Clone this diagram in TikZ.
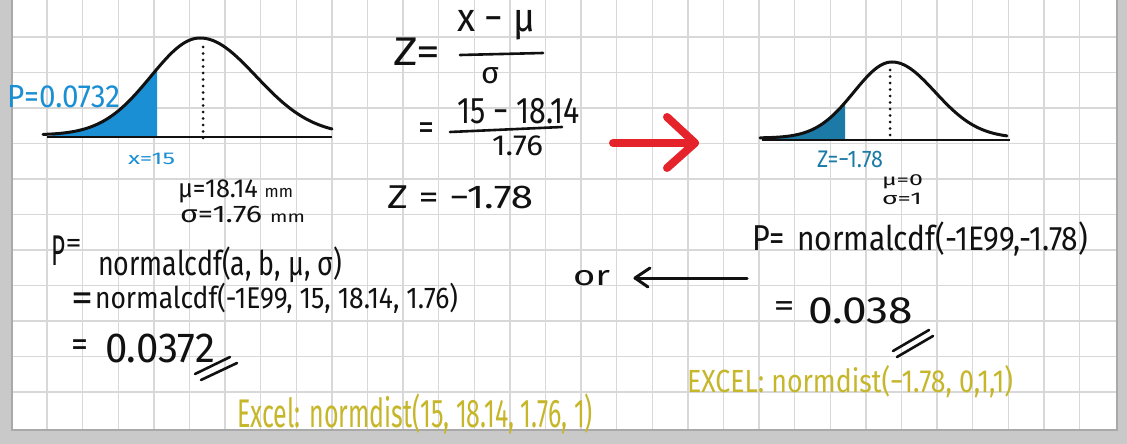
\documentclass[tikz,border=0pt]{standalone}
\usepackage{fontspec}
\setmainfont{Fira Sans}
\usepackage{graphicx}
\definecolor{bggray}{HTML}{C9C9C9}
\definecolor{shadowc}{HTML}{A9A9A9}
\definecolor{gridc}{HTML}{D8D8D8}
\definecolor{blueA}{HTML}{1A8FD4}
\definecolor{tealB}{HTML}{1B7BA6}
\definecolor{goldC}{HTML}{C6B62A}
\definecolor{redD}{HTML}{E5232B}
\definecolor{inkK}{HTML}{111111}
% width (pt), font size (pt), text
\newcommand\hwt[3]{\resizebox{#1pt}{\height}{\fontsize{#2pt}{#2pt}\selectfont #3}}
\newcommand\smallsz[2]{{\fontsize{#1pt}{#1pt}\selectfont #2}}
\begin{document}
\begin{tikzpicture}[x=1pt,y=-1pt,
  hw/.style={inner sep=0pt, outer sep=0pt, anchor=base west, text=inkK},
  gridline/.style={draw=gridc, line width=1.4pt},
  curveline/.style={draw=inkK, line width=3pt, line cap=round, line join=round},
  axisline/.style={draw=inkK, line width=2pt},
  dotline/.style={draw=inkK, line width=3pt, line cap=round, dash pattern=on 0pt off 6.5pt},
  inkstroke/.style={draw=inkK, line width=2.6pt, line cap=round},
  redarrow/.style={draw=redD, line width=8pt, line cap=round, line join=round},
  blackarrow/.style={draw=inkK, line width=3pt, line cap=round, line join=round}]
\useasboundingbox (0,0) rectangle (1127,444);
% paper
\fill[bggray] (0,0) rectangle (1127,444);
\fill[white] (12,0) rectangle (1117,430);
\draw[shadowc, line width=1.5pt] (12,0) -- (12,430) -- (1117,430) -- (1117,0);
\foreach \k in {1,...,30} \draw[gridline] ({11.4+35.6*\k},0) -- ({11.4+35.6*\k},429);
\foreach \k in {1,...,11} \draw[gridline] (13,{1.5+35.5*\k}) -- (1116,{1.5+35.5*\k});

% ---------- left bell curve ----------
\fill[blueA] plot[domain=52:157, samples=50] (\x,{135-97*exp(-((\x-200)/49)^2/2)}) -- (157,136) -- (52,136) -- cycle;
\draw[axisline] (47,137) -- (332,137);
\draw[curveline] plot[domain=43:200, samples=70] (\x,{135-97*exp(-((\x-200)/49)^2/2)})
   -- plot[domain=200:332, samples=70] (\x,{135-97*exp(-((\x-200)/56)^2/2)});
\coordinate (lmtop) at (203,47);
\coordinate (lmbot) at (203,140);
\draw[dotline] (lmtop) -- (lmbot);
\node[hw, text=blueA] (pl) at (7,107) {\hwt{113}{32}{P=0.0732}};
\node[hw, text=blueA] (xl) at (128,164) {\hwt{47}{17}{x=15}};
\node[hw] (mul) at (178,197) {\hwt{115}{26}{μ=18.14 \smallsz{17}{mm}}};
\node[hw] (sgl) at (180,222) {\hwt{125}{24}{σ=1.76 \smallsz{16}{mm}}};

% ---------- z formula ----------
\node[hw] (zeq) at (393,65) {\hwt{47}{40}{Z=}};
\node[hw] (znum) at (457,32) {\hwt{78}{40}{x − μ}};
\coordinate (f1a) at (460,55);
\coordinate (f1b) at (543,53);
\draw[inkstroke] (f1a) -- (f1b);
\node[hw] (zden) at (481,83) {\hwt{18}{30}{σ}};
\node[hw] (eq2) at (418.5,139) {\hwt{16}{36}{=}};
\node[hw] (num2) at (457,123) {\hwt{123}{37}{15 − 18.14}};
\coordinate (f2a) at (450,132);
\coordinate (f2b) at (562,127);
\draw[inkstroke] (f2a) -- (f2b);
\node[hw] (den2) at (492,155) {\hwt{51}{29}{1.76}};
\node[hw] (zres) at (387,208) {\hwt{146}{33}{Z = −1.78}};

% ---------- red arrow ----------
\coordinate (rtail) at (613,143);
\coordinate (rtip) at (695,143);
\coordinate (rarmA) at (667,117);
\coordinate (rarmB) at (667,168);
\draw[redarrow] (rtail) -- (rtip);
\draw[redarrow] (rarmA) -- (rtip) -- (rarmB);

% ---------- right bell curve ----------
\fill[tealB] plot[domain=766:845, samples=50] (\x,{138-76*exp(-((\x-892)/38)^2/2)}) -- (845,139) -- (766,139) -- cycle;
\draw[axisline] (762,140) -- (1010,140);
\draw[curveline] plot[domain=760:892, samples=70] (\x,{138-76*exp(-((\x-892)/38)^2/2)})
   -- plot[domain=892:1007, samples=70] (\x,{138-76*exp(-((\x-892)/43)^2/2)});
\coordinate (rmtop) at (890,70);
\coordinate (rmbot) at (890,140);
\draw[dotline] (rmtop) -- (rmbot);
\node[hw, text=tealB] (zr) at (817,167) {\hwt{66}{24}{Z=−1.78}};
\node[hw] (mur) at (882,185) {\hwt{41}{16}{μ=0}};
\node[hw] (sgr) at (882,204) {\hwt{40}{17}{σ=1}};

% ---------- right computation ----------
\node[hw] (pr) at (752,250) {\hwt{33}{36}{P=}};
\node[hw] (ncr) at (797,250) {\hwt{291}{34}{normalcdf(-1E99,-1.78)}};
\node[hw] (orw) at (573,285) {\hwt{37}{28}{or}};
\coordinate (btail) at (747,278);
\coordinate (btip) at (635,278);
\coordinate (barmA) at (650,268);
\coordinate (barmB) at (648,287);
\draw[blackarrow] (btail) -- (btip);
\draw[blackarrow] (barmA) -- (btip) -- (barmB);
\node[hw] (eqr) at (773.5,316) {\hwt{21}{32}{=}};
\node[hw] (resr) at (808,323) {\hwt{105}{38}{0.038}};
\coordinate (sr1a) at (893,351);
\coordinate (sr1b) at (929,330);
\coordinate (sr2a) at (897,357);
\coordinate (sr2b) at (933,336);
\draw[inkstroke] (sr1a) -- (sr1b);
\draw[inkstroke] (sr2a) -- (sr2b);
\node[hw, text=goldC] (exr) at (687,392) {\hwt{326}{32}{EXCEL: normdist(−1.78, 0,1,1)}};

% ---------- left computation ----------
\node[hw] (pL) at (52,265) {\hwt{14}{43}{P}};
\node[hw] (eqL) at (65.5,252) {\hwt{16}{28}{=}};
\node[hw] (ncL) at (98,275) {\hwt{244}{34}{normalcdf(a, b, μ, σ)}};
\node[hw] (eqL2) at (71,311) {\hwt{22}{40}{=}};
\node[hw] (ncL2) at (95,308) {\hwt{363}{30}{normalcdf(-1E99, 15, 18.14, 1.76)}};
\node[hw] (eqL3) at (71.5,356) {\hwt{17}{36}{=}};
\node[hw] (resL) at (105,362) {\hwt{110}{42}{0.0372}};
\coordinate (sl1a) at (195,374);
\coordinate (sl1b) at (230,357);
\coordinate (sl2a) at (201,380);
\coordinate (sl2b) at (237,363);
\draw[inkstroke] (sl1a) -- (sl1b);
\draw[inkstroke] (sl2a) -- (sl2b);
\node[hw, text=goldC] (exL) at (237,427) {\hwt{356}{40}{Excel: normdist(15, 18.14, 1.76, 1)}};
\end{tikzpicture}
\end{document}
